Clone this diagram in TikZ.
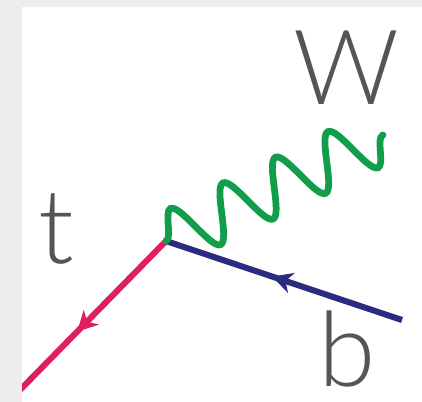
\documentclass[tikz,border=0pt]{standalone}
\usepackage{fontspec}
\usetikzlibrary{arrows.meta,decorations.pathmorphing,decorations.markings}
\IfFontExistsTF{Lato Light}{\newfontfamily\lblfont{Lato Light}}{\newfontfamily\lblfont{Latin Modern Sans}}
\definecolor{topred}{HTML}{E0205C}
\definecolor{botblue}{HTML}{2B2B80}
\definecolor{wgreen}{HTML}{109E4A}
\definecolor{lblgray}{HTML}{555555}
\definecolor{bggray}{HTML}{EDEDF0}
\tikzset{fermion/.style={line width=4.3pt},
  midarr/.style={postaction={decorate},decoration={markings,
    mark=at position #1 with {\arrow{Stealth[length=0.5cm,width=0.52cm,inset=0.15cm]}}}},
  boson/.style={line width=4.8pt,wgreen,line cap=round,decorate,
    decoration={snake,segment length=1.4606cm,amplitude=0.68cm}},
  lbl/.style={anchor=base,text=lblgray,inner sep=0pt,font=\lblfont\fontsize{74}{80}\selectfont}}

\begin{document}
\begin{tikzpicture}[x=0.025cm,y=-0.025cm]
\useasboundingbox (0,0) rectangle (422,402);
\fill[bggray] (0,0) rectangle (422,402);
\fill[white] (22,7) rectangle (422,402);
\coordinate (v) at (166,241);
\coordinate (tend) at (18,392);
\coordinate (bend) at (402,320);
\coordinate (Wend) at (383,135);
\begin{scope}
\clip (22,7) rectangle (422,402);
\draw[fermion,topred,midarr=0.6] (v)--(tend);
\end{scope}
\draw[fermion,botblue,midarr=0.55] (bend)--(v);
\draw[boson] (v)--(Wend);
\node[lbl] (W) at (346,104){W};
\node[lbl] (t) at (56,263){t};
\node[lbl] (b) at (347,386){b};
\end{tikzpicture}
\end{document}
